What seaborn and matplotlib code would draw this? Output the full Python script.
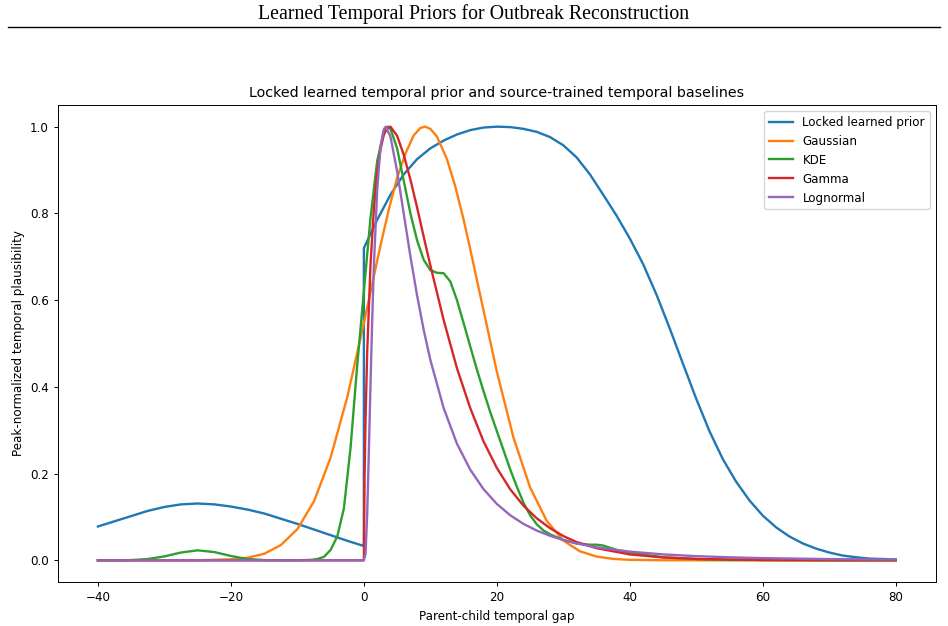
import matplotlib
matplotlib.use("Agg")
import matplotlib.pyplot as plt
from matplotlib.lines import Line2D
import pandas as pd
import seaborn as sns

# values (peak-normalized)
prior_x = [-40, -37.5, -35, -32.5, -30, -27.5, -25, -22.5, -20, -17.5, -15, -12.5,
           -10, -7.5, -5, -2.5, 0, 0, 2, 4, 6, 8, 10, 12, 14, 16, 18, 20, 22, 24,
           26, 28, 30, 32, 34, 36, 38, 40, 42, 44, 46, 48, 50, 52, 54, 56, 58, 60,
           62, 64, 66, 68, 70, 72, 74, 76, 78, 80]
prior_y = [0.078, 0.090, 0.102, 0.114, 0.123, 0.129, 0.131, 0.129, 0.124, 0.117,
           0.108, 0.096, 0.084, 0.071, 0.058, 0.045, 0.033, 0.72, 0.785, 0.843,
           0.89, 0.925, 0.95, 0.968, 0.982, 0.992, 0.998, 1.0, 0.999, 0.995, 0.988,
           0.976, 0.957, 0.929, 0.89, 0.843, 0.795, 0.742, 0.683, 0.613, 0.535,
           0.453, 0.372, 0.297, 0.233, 0.181, 0.138, 0.103, 0.076, 0.055, 0.039,
           0.027, 0.018, 0.011, 0.007, 0.004, 0.003, 0.002]

gauss_x = [-40, -30, -25, -20, -17.5, -15, -12.5, -10, -7.5, -5, -2.5, 0, 1.25, 2.5,
           3.75, 5, 6.25, 7.5, 8.5, 9.2, 10, 11, 12.5, 13.75, 15, 16.25, 17.5, 20,
           22.5, 25, 27.5, 30, 32.5, 35, 37.5, 40, 45, 50, 60, 70, 80]
gauss_y = [0.0, 0.0, 0.0002, 0.0023, 0.006, 0.015, 0.035, 0.072, 0.136, 0.237, 0.376,
           0.547, 0.637, 0.726, 0.809, 0.882, 0.938, 0.98, 0.997, 1.0, 0.995, 0.977,
           0.925, 0.862, 0.786, 0.70, 0.611, 0.435, 0.283, 0.168, 0.091, 0.0455,
           0.0207, 0.0086, 0.0033, 0.0011, 0.0001, 0.0, 0.0, 0.0, 0.0]

kde_x = [-40, -35, -32.5, -30, -27.5, -25, -22.5, -20, -17.5, -15, -12.5, -10, -8,
         -7, -6, -5, -4, -3, -2, -1, 0, 1, 2, 3, 3.6, 4, 5, 6, 7, 8, 9, 10, 11, 12,
         13, 14, 15, 16, 17, 18, 19, 20, 21, 22, 23, 24, 25, 26, 27, 28, 30, 32, 34,
         35, 36, 37, 38, 40, 42, 45, 50, 55, 60, 70, 80]
kde_y = [0.0, 0.0005, 0.003, 0.009, 0.018, 0.023, 0.019, 0.010, 0.003, 0.0005, 0.0,
         0.0002, 0.001, 0.003, 0.008, 0.024, 0.055, 0.12, 0.26, 0.45, 0.62, 0.79,
         0.92, 0.99, 1.0, 0.995, 0.95, 0.875, 0.80, 0.738, 0.693, 0.669, 0.663,
         0.662, 0.643, 0.60, 0.547, 0.493, 0.44, 0.39, 0.342, 0.298, 0.254, 0.21,
         0.17, 0.133, 0.104, 0.083, 0.069, 0.06, 0.047, 0.039, 0.036, 0.036, 0.034,
         0.029, 0.024, 0.018, 0.013, 0.007, 0.003, 0.001, 0.0005, 0.0, 0.0]

gamma_x = [-40, -20, -5, 0, 0.1, 0.25, 0.5, 1, 1.5, 2, 2.5, 3, 3.5, 4, 5, 6, 7, 8,
           9, 10, 12, 14, 16, 18, 20, 22, 24, 26, 28, 30, 32, 35, 40, 45, 50, 60,
           70, 80]
gamma_y = [0.0, 0.0, 0.0, 0.0, 0.189, 0.325, 0.48, 0.682, 0.81, 0.894, 0.948, 0.981,
           0.996, 1.0, 0.979, 0.935, 0.878, 0.814, 0.746, 0.68, 0.554, 0.443, 0.351,
           0.274, 0.213, 0.164, 0.126, 0.097, 0.074, 0.056, 0.042, 0.028, 0.0136,
           0.0066, 0.0032, 0.0007, 0.0002, 0.0]

lognorm_x = [-40, -20, -5, 0, 0.25, 0.5, 0.75, 1, 1.25, 1.5, 2, 2.5, 3, 3.3, 4, 5, 6,
             7, 8, 9, 10, 12, 14, 16, 18, 20, 22, 24, 26, 28, 30, 32, 35, 40, 45, 50,
             55, 60, 70, 80]
lognorm_y = [0.0, 0.0, 0.0, 0.0, 0.015, 0.106, 0.251, 0.408, 0.553, 0.677, 0.854,
             0.953, 0.994, 1.0, 0.977, 0.897, 0.799, 0.701, 0.611, 0.531, 0.462,
             0.351, 0.269, 0.209, 0.164, 0.130, 0.104, 0.084, 0.0686, 0.0565, 0.0467,
             0.0389, 0.030, 0.020, 0.0136, 0.0096, 0.0069, 0.005, 0.0028, 0.0017]

names = ["Locked learned prior", "Gaussian", "KDE", "Gamma", "Lognormal"]
colors = ["#1f77b4", "#ff7f0e", "#2ca02c", "#d62728", "#9467bd"]

series = [(prior_x, prior_y), (gauss_x, gauss_y), (kde_x, kde_y),
          (gamma_x, gamma_y), (lognorm_x, lognorm_y)]
frames = []
for name, (xs, ys) in zip(names, series):
    frames.append(pd.DataFrame({"gap": xs, "value": ys, "model": name}))
df = pd.concat(frames, ignore_index=True)

# the reference looks like a slightly shrunk figure, so text is a bit smaller
plt.rcParams["font.size"] = 8.6
plt.rcParams["axes.linewidth"] = 0.7
plt.rcParams["xtick.major.size"] = 3.0
plt.rcParams["ytick.major.size"] = 3.0
plt.rcParams["xtick.major.width"] = 0.7
plt.rcParams["ytick.major.width"] = 0.7

fig = plt.figure(figsize=(9.48, 6.26), dpi=100)
ax = fig.add_axes([0.0612, 0.0703, 0.9258, 0.7620])

sns.lineplot(data=df, x="gap", y="value", hue="model", hue_order=names,
             palette=colors, estimator=None, errorbar=None, linewidth=1.7, ax=ax)

ax.set_title("Locked learned temporal prior and source-trained temporal baselines",
             fontsize=10.3)
ax.set_xlabel("Parent-child temporal gap")
ax.set_ylabel("Peak-normalized temporal plausibility")
ax.legend(loc="upper right")

# page header
fig.text(0.5, 1 - 14 / 626, "Learned Temporal Priors for Outbreak Reconstruction",
         ha="center", va="center", family="Liberation Serif", fontsize=14.3)
fig.add_artist(Line2D([8 / 948, 940 / 948], [1 - 27 / 626, 1 - 27 / 626],
                      color="black", linewidth=1))

fig.savefig("out.png", dpi=100)
